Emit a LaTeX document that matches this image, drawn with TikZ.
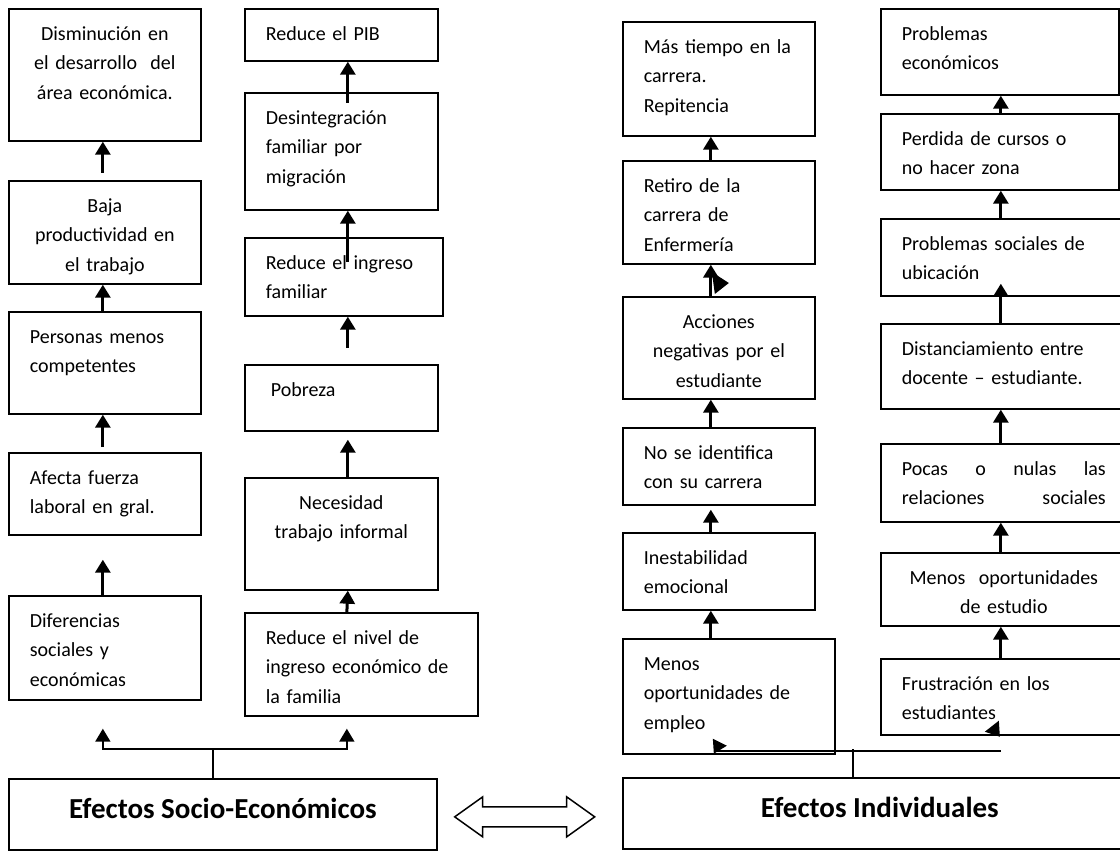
\documentclass[tikz,border=0pt]{standalone}
\usepackage{fontspec}
\setmainfont{Carlito}
\usetikzlibrary{arrows.meta}
\tikzstyle{block} = [draw, fill=white, rectangle, anchor=north west,
    line width=1.7pt, inner xsep=21pt, inner ysep=0pt, text height=31.5pt,
    font=\fontsize{20pt}{29.5pt}\selectfont]
\tikzstyle{titulo} = [block, text height=40pt, text depth=31pt,
    font=\fontsize{29pt}{34pt}\selectfont\bfseries]
\tikzstyle{flecha} = [->, line width=3pt]
\tikzstyle{linea} = [line width=1.7pt]
\tikzstyle{dflecha} = [draw, fill=white, line width=1.5pt, line join=miter]

\begin{document}
\begin{tikzpicture}[x=1pt, y=-1pt, >={Triangle[length=13pt,width=15pt]}]
  \useasboundingbox (0,0) rectangle (1120,856);
  \fill[white] (0,0) rectangle (1120,856);

  % efectos socio-economicos
  \node [block, text width=150pt, text depth=100.5pt, align=center] (a1) at (8,8) {Disminución en\\el desarrollo\ \ del\\área económica.};
  \node [block, text width=150pt, text depth=71.5pt, align=center] (a2) at (8,180) {Baja\\productividad en\\el trabajo};
  \node [block, text width=150pt, text depth=70.5pt, align=left] (a3) at (8,311) {Personas menos\\competentes};
  \node [block, text width=150pt, text depth=50.5pt, align=left] (a4) at (8,452) {Afecta fuerza\\laboral en gral.};
  \node [block, text width=150pt, text depth=72.5pt, align=left] (a5) at (8,595) {Diferencias\\sociales y\\económicas};

  \node [block, text width=151pt, text depth=20.5pt, align=left] (b1) at (244,8) {Reduce el PIB};
  \node [block, text width=151pt, text depth=85.5pt, align=left] (b2) at (244,92) {Desintegración\\familiar por\\migración};
  \node [block, text width=156pt, text depth=46.5pt, align=left] (b3) at (244,237) {Reduce el ingreso\\familiar};
  \node [block, text width=151pt, text depth=34.5pt, align=left] (b4) at (244,364) {\hspace*{5pt}Pobreza};
  \node [block, text width=151pt, text depth=80.5pt, align=center] (b5) at (244,477) {Necesidad\\trabajo informal};
  \node [block, text width=191pt, text depth=71.5pt, align=left] (b6) at (244,612) {Reduce el nivel de\\ingreso~económico~de\\la familia};

  % efectos individuales
  \node [block, text width=150pt, text depth=82.5pt, align=left] (c1) at (622,21) {Más~tiempo~en~la\\carrera.\\Repitencia};
  \node [block, text width=150pt, text depth=71.5pt, align=left] (c2) at (622,160) {Retiro de la\\carrera de\\Enfermería};
  \node [block, text width=150pt, text depth=70.5pt, align=center] (c3) at (622,296) {Acciones\\negativas por el\\estudiante};
  \node [block, text width=150pt, text depth=45.5pt, align=left] (c4) at (622,427) {No se identifica\\con su carrera};
  \node [block, text width=150pt, text depth=45.5pt, align=left] (c5) at (622,532) {Inestabilidad\\emocional};
  \node [block, text width=170pt, text depth=83.5pt, align=left] (c6) at (622,638) {Menos\\oportunidades de\\empleo};

  \node [block, text width=196pt, text depth=54.5pt, align=left] (d1) at (880,8) {Problemas\\económicos};
  \node [block, text width=196pt, text depth=44.5pt, align=left] (d2) at (880,113) {Perdida de cursos o\\no hacer zona};
  \node [block, text width=204pt, text depth=45.5pt, align=left] (d3) at (880,218) {Problemas sociales de\\ubicación};
  \node [block, text width=204pt, text depth=53.5pt, align=left] (d4) at (880,323) {Distanciamiento entre\\docente – estudiante.};
  \node [block, text width=204pt, text depth=46.5pt, align=justify] (d5) at (880,443) {Pocas\hfill o\hfill nulas\hfill las\\relaciones\hfill sociales};
  \node [block, text width=204pt, text depth=41.5pt, align=center] (d6) at (880,552) {Menos\ \ oportunidades\\de estudio};
  \node [block, text width=204pt, text depth=44.5pt, align=left] (d7) at (880,658) {Frustración en los\\estudiantes};

  \node [titulo, minimum width=428pt] (se) at (8,778) {Efectos Socio-Económicos};
  \node [titulo, minimum width=514pt] (si) at (622,777) {Efectos Individuales};

  % flechas columna a
  \draw [flecha] ([xshift=-2pt,yshift=7pt]a2.north) -- ([xshift=-2pt]a1.south);
  \draw [flecha] ([xshift=-2pt]a3.north) -- ([xshift=-2pt]a2.south);
  \draw [flecha] ([xshift=-2pt,yshift=5pt]a4.north) -- ([xshift=-2pt]a3.south);
  \draw [flecha] ([xshift=-2pt]a5.north) -- ([xshift=-2pt,yshift=-24pt]a4.south);
  % flechas columna b
  \draw [flecha] ([xshift=6.5pt,yshift=-11pt]b2.north) -- ([xshift=6.5pt]b1.south);
  \draw [flecha] ([xshift=4pt,yshift=-25pt]b3.north) -- ([xshift=6.5pt]b2.south);
  \draw [flecha] ([xshift=6.5pt,yshift=16pt]b4.north) -- ([xshift=4pt]b3.south);
  \draw [flecha] ([xshift=6.5pt]b5.north) -- ([xshift=6.5pt,yshift=-8pt]b4.south);
  \draw [flecha] ([xshift=-14.5pt]b6.north) -- ([xshift=6.5pt]b5.south);
  % flechas columna c
  \draw [flecha] ([xshift=-8pt]c2.north) -- ([xshift=-8pt]c1.south);
  \draw [flecha] ([xshift=-8pt]c3.north) -- ([xshift=-8pt]c2.south);
  \draw [flecha] ([xshift=-8pt]c4.north) -- ([xshift=-8pt]c3.south);
  \draw [flecha] ([xshift=-8pt]c5.north) -- ([xshift=-8pt,yshift=-4pt]c4.south);
  \draw [flecha] ([xshift=-18pt]c6.north) -- ([xshift=-8pt]c5.south);
  % flechas columna d
  \draw [flecha] ([xshift=1pt]d2.north) -- ([xshift=1pt]d1.south);
  \draw [flecha] ([xshift=-3pt]d3.north) -- ([xshift=1pt]d2.south);
  \draw [flecha] ([xshift=-3pt]d4.north) -- ([xshift=-3pt,yshift=13pt]d3.south);
  \draw [flecha] ([xshift=-3pt]d5.north) -- ([xshift=-3pt]d4.south);
  \draw [flecha] ([xshift=-3pt]d6.north) -- ([xshift=-3pt]d5.south);
  \draw [flecha] ([xshift=-3pt]d7.north) -- ([xshift=-3pt]d6.south);

  % ramas inferiores
  \coordinate (ramal) at ([xshift=-10pt,yshift=29pt]se.north);
  \coordinate (fa) at ([xshift=-2pt,yshift=-28pt]a5.south);
  \coordinate (fb) at ([xshift=-14.5pt,yshift=-12pt]b6.south);
  \draw [linea] (se.north -| ramal) -- (ramal);
  \draw [linea, <->] (fa) |- (ramal) -| (fb);

  \coordinate (ramar) at ([xshift=-27pt,yshift=28pt]si.north);
  \coordinate (ja) at ([xshift=-15pt,yshift=4pt]c6.south);
  \coordinate (jb) at ([xshift=-3pt,yshift=-15pt]d7.south);
  \draw [linea] (si.north -| ramar) -- (ramar);
  \draw [linea] (ja) -- (jb);
  % puntas sueltas
  \fill (ja) ++(-1,-12) -- ++(14,7) -- ++(-13,8) -- cycle;
  \fill (jb) ++(-2,-30) -- ++(-14,11) -- ++(15,5) -- cycle;
  \fill ([xshift=-7pt,yshift=24pt]c3.north) -- ++(17,11) -- ++(-14,11) -- cycle;

  % doble flecha
  \coordinate (dl) at ([xshift=17pt,yshift=-2.5pt]se.east);
  \draw [dflecha] (dl) -- ++(28,-20) -- ++(0,10) -- ++(84,0) -- ++(0,-10) -- ++(28,20)
    -- ++(-28,20) -- ++(0,-10) -- ++(-84,0) -- ++(0,10) -- cycle;
\end{tikzpicture}
\end{document}
